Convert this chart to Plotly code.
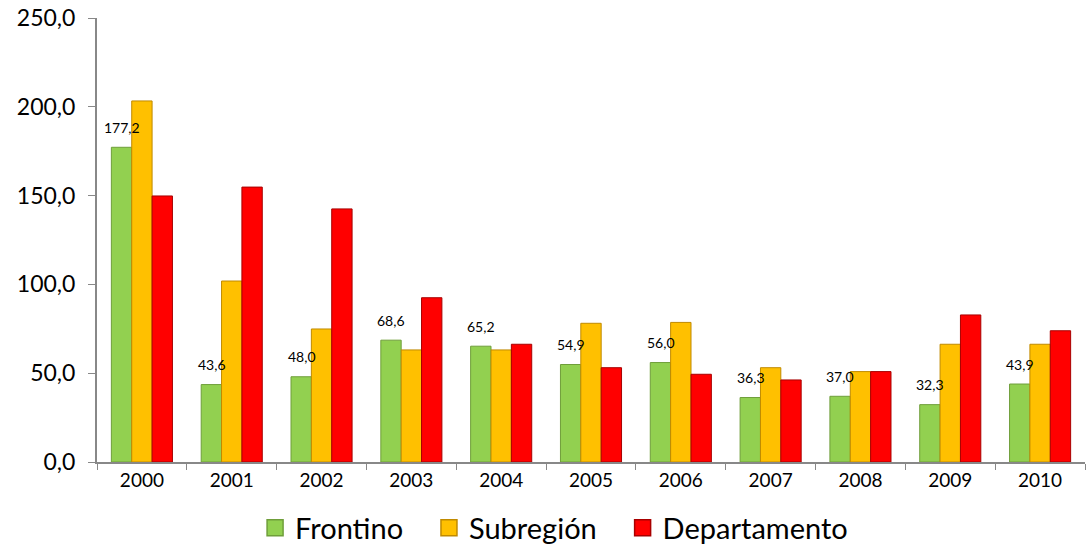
import plotly.graph_objects as go

years = ["2000", "2001", "2002", "2003", "2004", "2005", "2006", "2007", "2008", "2009", "2010"]
frontino = [177.2, 43.6, 48.0, 68.6, 65.2, 54.9, 56.0, 36.3, 37.0, 32.3, 43.9]
subregion = [203.3, 101.9, 74.9, 63.1, 63.1, 78.1, 78.6, 53.1, 50.9, 66.3, 66.3]
departamento = [149.8, 154.8, 142.5, 92.5, 66.3, 53.1, 49.4, 46.2, 50.9, 82.8, 73.9]

series_names = ["Frontino", "Subregión", "Departamento"]
fill_colors = ["#92D050", "#FFC000", "#FF0000"]
edge_colors = ["#6F9E3A", "#C08A00", "#A80000"]
legend_ids = ["legend", "legend2", "legend3"]
legend_x = [0.160, 0.336, 0.532]

font_family = "Lato, 'Open Sans', sans-serif"

fig = go.Figure()
for name, vals, fc, ec in zip(series_names, [frontino, subregion, departamento],
                              fill_colors, edge_colors):
    fig.add_bar(x=years, y=vals, name=name, showlegend=False, legendgroup=name,
                marker=dict(color=fc, line=dict(color=ec, width=1)))

# legend-only entries with larger square swatches
for name, fc, ec, lid in zip(series_names, fill_colors, edge_colors, legend_ids):
    fig.add_scatter(x=[None], y=[None], mode="markers", name=name, legendgroup=name,
                    legend=lid,
                    marker=dict(symbol="square", size=18, color=fc,
                                line=dict(color=ec, width=1.5)),
                    hoverinfo="skip")

# Frontino value labels (category index positions)
for i, v in enumerate(frontino):
    fig.add_annotation(x=i, y=v, text=f"{v:.1f}".replace(".", ","),
                       showarrow=False, xshift=-20, yshift=20,
                       font=dict(size=14, color="black", family=font_family))

legend_style = dict(orientation="h", y=-0.1486, yanchor="middle", xanchor="left",
                    font=dict(size=29), itemsizing="trace",
                    bgcolor="rgba(0,0,0,0)", borderwidth=0)

fig.update_layout(
    width=1089, height=546,
    margin=dict(l=97, r=4, t=18, b=84, autoexpand=False),
    paper_bgcolor="white", plot_bgcolor="white",
    barmode="group", bargap=0.32, bargroupgap=0,
    separators=",.",
    font=dict(family=font_family, color="black"),
    showlegend=True,
    legend=dict(x=legend_x[0], **legend_style),
    legend2=dict(x=legend_x[1], **legend_style),
    legend3=dict(x=legend_x[2], **legend_style),
    xaxis=dict(type="category", automargin=False, showline=True,
               linecolor="#888888", linewidth=2,
               ticks="outside", tickson="boundaries", ticklen=6, tickcolor="#888888",
               tickfont=dict(size=19), showgrid=False, ticklabeloverflow="allow"),
    yaxis=dict(range=[0, 250], dtick=50, tickformat=".1f", automargin=False,
               showline=True, linecolor="#888888", linewidth=2,
               ticks="outside", ticklen=7, tickcolor="#888888", ticklabelstandoff=8,
               tickfont=dict(size=23), showgrid=False, zeroline=False,
               ticklabeloverflow="allow"),
)

fig.write_html("out.html", config={"displayModeBar": False},
               post_script="document.body.style.margin='0';document.body.style.overflow='hidden';")
